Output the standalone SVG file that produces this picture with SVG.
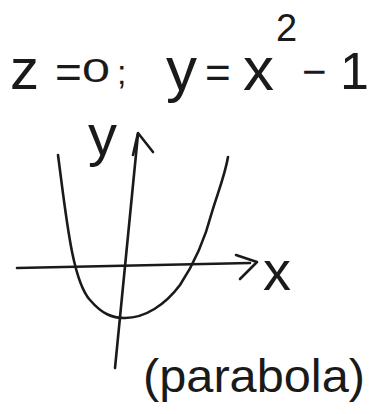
<svg xmlns="http://www.w3.org/2000/svg" width="374" height="414" viewBox="0 0 374 414">
<style>
.t{font-family:"Liberation Sans","DejaVu Sans",sans-serif;fill:#1a1a1a}
.s{fill:none;stroke:#1a1a1a;stroke-width:2.6;stroke-linecap:round;stroke-linejoin:round}
</style>
<rect width="374" height="414" fill="#fff"/>
<g id="equation">
<text class="t" x="10" y="89" font-size="58">z</text>
<text class="t" x="55" y="88" font-size="46">=</text>
<text class="t" x="82" y="82" font-size="34" textLength="28" lengthAdjust="spacingAndGlyphs">0</text>
<text class="t" x="117" y="84" font-size="34">;</text>
<text class="t" x="166" y="90" font-size="62">y</text>
<text class="t" x="205" y="88" font-size="44">=</text>
<text class="t" x="243" y="90" font-size="62">x</text>
<text class="t" x="276" y="41" font-size="38">2</text>
<text class="t" x="302" y="86" font-size="42">−</text>
<text class="t" x="340" y="89" font-size="52">1</text>
</g>
<g id="axes">
<path class="s" d="M17,268 C80,266 160,265 250,263"/>
<path class="s" d="M236,255 L257,262 L240,279"/>
<path class="s" d="M115,368 C122,300 130,220 138,134"/>
<path class="s" d="M133,155 L138,133 L153,152"/>
</g>
<g id="parabola">
<path class="s" d="M58,155 C66,215 72,280 90,300 C102,314 112,318 125,318 C145,318 165,305 180,285 C198,258 206,235 212,212 C218,192 225,175 228,157"/>
</g>
<g id="labels">
<text class="t" x="88" y="155" font-size="58">y</text>
<text class="t" x="263" y="290" font-size="56">x</text>
<text class="t" x="143" y="392" font-size="46" textLength="222" lengthAdjust="spacingAndGlyphs">(parabola)</text>
</g>
</svg>
